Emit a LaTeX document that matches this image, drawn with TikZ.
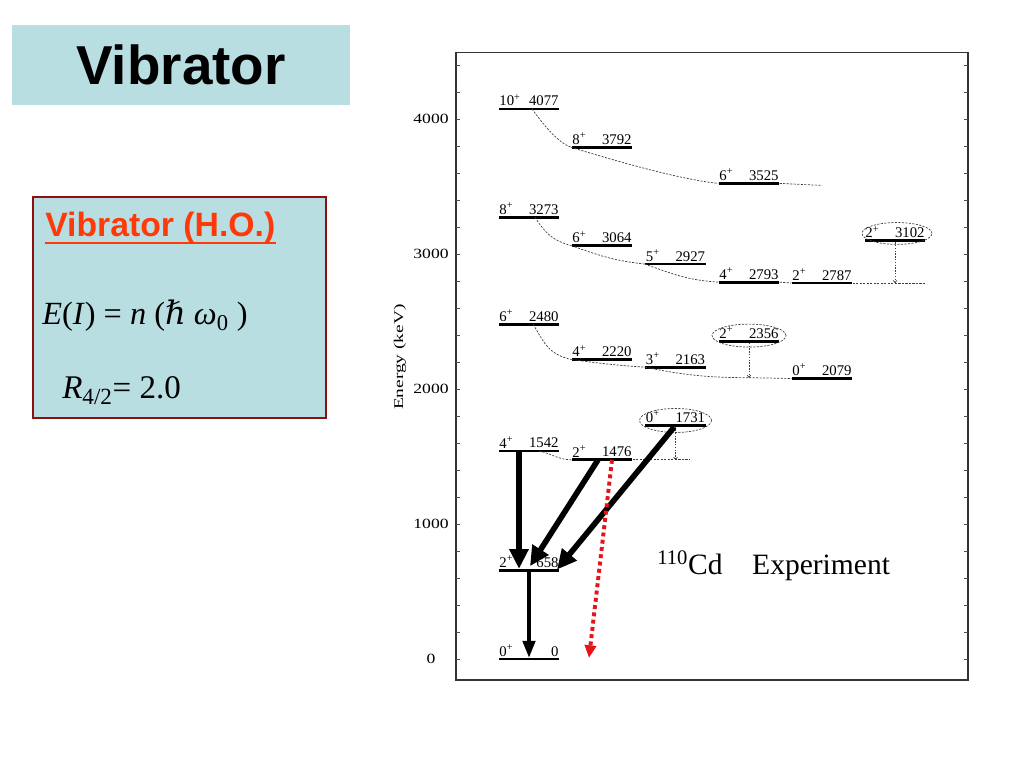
\documentclass[tikz,border=0pt]{standalone}
\usepackage{fontspec}
\setmainfont{Liberation Serif}
\newfontfamily\sansbf{Liberation Sans}
\newfontfamily\symserif{DejaVu Serif}
\usetikzlibrary{arrows.meta,calc}
\definecolor{boxblue}{HTML}{B9DEE2}
\definecolor{boxred}{HTML}{8C1010}
\definecolor{hored}{HTML}{FF3A0A}
\definecolor{decred}{HTML}{E5141B}
\newcommand{\lev}[5]{
    \node[level] (#1) at (#2,#3) {};
    \node[lab, anchor=south west] (#1s) at (#1.north west) {#4\textsuperscript{+}};
    \node[lab, anchor=south east] (#1e) at (#1.north east) {#5};
}
\tikzset{
    level/.style={fill=black, inner sep=0pt, minimum width=1.52cm, minimum height=2pt},
    lab/.style={font=\fontsize{10.5}{11}\selectfont, inner sep=0.6pt},
    link/.style={dash pattern=on 1.5pt off 1pt, line width=0.5pt, black!75},
    feed/.style={dash pattern=on 1pt off 1pt, line width=0.5pt, black!75, -{To[length=2pt,width=3pt]}},
    gam/.style={line width=4pt, -{Triangle[length=14pt,width=13pt]}},
    gamthin/.style={line width=2.2pt, -{Triangle[length=12pt,width=9pt]}},
    forb/.style={decred, line width=2.8pt, dash pattern=on 2.8pt off 2.4pt, -{Triangle[length=9pt,width=8pt]}},
    axnum/.style={font=\fontsize{10}{11}\selectfont, xscale=1.25},
}
\begin{document}
\begin{tikzpicture}[x=0.025cm, y=0.025cm]
    \useasboundingbox (0,0) rectangle (1024,768);
    % left side: title and model box
    \node[fill=boxblue, minimum width=8.45cm, minimum height=2cm, inner sep=0pt,
        font=\sansbf\bfseries\fontsize{39}{40}\selectfont] (title) at (181,703) {Vibrator};
    \draw[boxred, line width=2pt, fill=boxblue] (33,350) rectangle (326,571);
    \node[anchor=base west, inner sep=0pt, text=hored, font=\sansbf\bfseries\fontsize{24}{26}\selectfont] (hotitle) at (45,531) {Vibrator (H.O.)};
    \draw[hored, line width=2pt] (hotitle.base west) ++(0,-6) -- ($(hotitle.base east)+(0,-6)$);
    \node[anchor=base west, inner sep=0pt, font=\fontsize{23}{26}\selectfont] (energy) at (42,443)
        {\textit{E}(\textit{I}) = \textit{n} ({\symserif\itshape ℏ} \textit{ω}\textsubscript{0} )};
    \node[anchor=base west, inner sep=0pt, font=\fontsize{23.5}{26}\selectfont] (ratio) at (62,369)
        {\textit{R}\textsubscript{4/2}= 2.0};
    \node[anchor=base west, inner sep=0pt, font=\fontsize{21}{24}\selectfont] (cd) at (657,193)
        {\textsuperscript{110}Cd\quad Experiment};
    % level scheme, y in keV
    \begin{scope}[shift={(0,109)}, y=0.003375cm]
        \draw[line width=1pt, black!80] (456,-155) rectangle (968,4496);
        \foreach \e in {0,200,...,4400} {
            \draw[black!70, line width=0.6pt] (456,\e) -- ++(4,0);
            \draw[black!70, line width=0.6pt] (968,\e) -- ++(-4,0);
        }
        \foreach \e in {0,1000,...,4000}
            \node[axnum] at (431,\e) {\e};
        \node[font=\fontsize{9.5}{10}\selectfont, rotate=90, xscale=1.45] (elab) at (400,2237) {Energy (keV)};

        \lev{l0}{529}{0}{0}{0}
        \lev{l658}{529}{658}{2}{658}
        \lev{l1542}{529}{1542}{4}{1542}
        \lev{l2480}{529}{2480}{6}{2480}
        \lev{l3273}{529}{3273}{8}{3273}
        \lev{l4077}{529}{4077}{10}{4077}
        \lev{l1476}{602}{1476}{2}{1476}
        \lev{l2220}{602}{2220}{4}{2220}
        \lev{l3064}{602}{3064}{6}{3064}
        \lev{l3792}{602}{3792}{8}{3792}
        \lev{l1731}{675.5}{1731}{0}{1731}
        \lev{l2163}{675.5}{2163}{3}{2163}
        \lev{l2927}{675.5}{2927}{5}{2927}
        \lev{l2356}{749}{2356}{2}{2356}
        \lev{l2793}{749}{2793}{4}{2793}
        \lev{l3525}{749}{3525}{6}{3525}
        \lev{l2079}{822}{2079}{0}{2079}
        \lev{l2787}{822}{2787}{2}{2787}
        \lev{l3102}{895}{3102}{2}{3102}

        \coordinate (j3525) at (822,3510);
        \coordinate (j2787) at (925,2787);
        \coordinate (j2079) at (749,2085);
        \coordinate (j1476) at (690,1476);
        \coordinate (f3102) at (895,2787);
        \coordinate (f1731) at (675.5,1476);

        % band links
        \draw[link] ($(l4077)+(3,0)$) .. controls +(10,-100) and +(-15,40) .. (l3792.west);
        \draw[link] (l3792.west) .. controls +(40,-90) and +(-40,30) .. (l3525.west);
        \draw[link] (l3525.east) -- (j3525);
        \draw[link] ($(l3273)+(6,0)$) .. controls +(10,-110) and +(-20,40) .. (l3064.west);
        \draw[link] (l3064.west) .. controls +(30,-80) and +(-30,25) .. (l2927.west);
        \draw[link] (l2927.west) .. controls +(30,-80) and +(-30,15) .. (l2793.west);
        \draw[link] (l2793.east) -- (l2787.west);
        \draw[link] (l2787.east) -- (j2787);
        \draw[link] ($(l2480)+(4,0)$) .. controls +(10,-110) and +(-25,40) .. (l2220.west);
        \draw[link] (l2220.west) .. controls +(30,-30) and +(-30,15) .. (l2163.west);
        \draw[link] (l2163.west) .. controls +(40,-60) and +(-40,0) .. (j2079);
        \draw[link] (j2079) -- (l2079.west);
        \draw[link] ($(l1542)+(10,0)$) .. controls +(15,-25) and +(-15,5) .. (l1476.west);
        \draw[link] (l1476.east) -- (j1476);

        % marked states
        \draw[link] ($(l3102)+(2,52)$) ellipse [x radius=35, y radius=81];
        \draw[link] ($(l2356)+(0,41)$) ellipse [x radius=37, y radius=85];
        \draw[link] ($(l1731)+(0,37)$) ellipse [x radius=36, y radius=89];
        \draw[feed] (l3102) -- (f3102);
        \draw[feed] (l2356) -- (j2079);
        \draw[feed] (l1731) -- (f1731);

        % transitions
        \draw[gam] ($(l1542)+(-10,0)$) -- ($(l658)+(-10,10)$);
        \draw[gam] ($(l1476)+(-4,0)$) -- ($(l658)+(1,30)$);
        \draw[gam] (l1731) -- ($(l658)+(28,5)$);
        \draw[gamthin] ($(l658)+(0,-5)$) -- ($(l0)+(0,10)$);
        \draw[forb] ($(l1476)+(10,0)$) -- ($(l0)+(60,8)$);
    \end{scope}
\end{tikzpicture}
\end{document}
